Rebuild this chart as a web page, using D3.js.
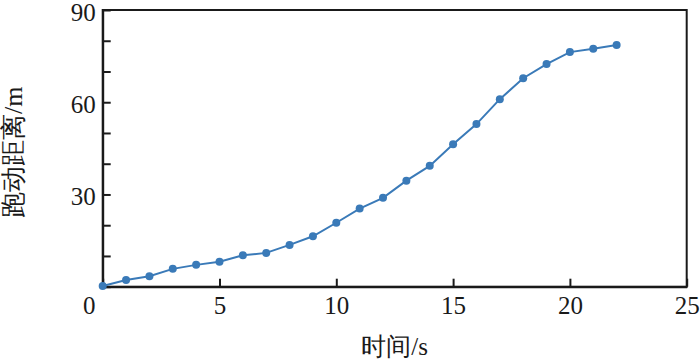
<!DOCTYPE html>
<html>
<head>
<meta charset="utf-8">
<script src="https://cdn.jsdelivr.net/npm/d3@7"></script>
</head>
<body style="margin:0">
<div id="chart"></div>
<script>
const times = [0, 1, 2, 3, 4, 5, 6, 7, 8, 9, 10, 11, 12, 13, 14, 15, 16, 17, 18, 19, 20, 21, 22];
const distances = [0.2, 2.2, 3.4, 5.8, 7.1, 8.1, 10.2, 11.0, 13.6, 16.4, 20.8, 25.4, 28.9, 34.5, 39.3, 46.3, 52.9, 61.0, 67.8, 72.4, 76.3, 77.4, 78.6];
const xTicks = [0, 5, 10, 15, 20, 25];
const yTicks = [0, 10, 20, 30, 40, 50, 60, 70, 80, 90];
const yLabelTicks = [30, 60, 90];
const xTitle = "时间/s";
const yTitle = "跑动距离/m";

const width = 700;
const height = 360;
const margin = { top: 10, right: 13.3, bottom: 73.3, left: 102.7 };
const lineColor = "#3a7ab8";
const ink = "#1a1a1a";
const serif = "Liberation Serif";

const svg = d3.select("#chart").append("svg")
    .attr("width", width)
    .attr("height", height);

const x = d3.scaleLinear()
    .domain([0, 25])
    .range([margin.left, width - margin.right]);

const y = d3.scaleLinear()
    .domain([0, 90])
    .range([height - margin.bottom, margin.top]);

// frame: top and right
svg.append("rect")
    .attr("x", x(0))
    .attr("y", y(90))
    .attr("width", x(25) - x(0))
    .attr("height", y(0) - y(90))
    .attr("fill", "none")
    .attr("stroke", ink)
    .attr("stroke-width", 2);

const xAxis = svg.append("g")
    .attr("transform", `translate(0,${y(0)})`)
    .call(d3.axisBottom(x)
        .tickValues(xTicks)
        .tickSizeInner(-8)
        .tickSizeOuter(0)
        .tickPadding(10)
        .tickFormat(d3.format("d")));

const yAxis = svg.append("g")
    .attr("transform", `translate(${x(0)},0)`)
    .call(d3.axisLeft(y)
        .tickValues(yTicks)
        .tickSizeInner(-8)
        .tickSizeOuter(0)
        .tickPadding(7)
        .tickFormat(d => yLabelTicks.includes(d) ? d : ""));

[xAxis, yAxis].forEach(g => {
    g.select(".domain").attr("stroke", ink).attr("stroke-width", 2);
    g.selectAll(".tick line").attr("stroke", ink).attr("stroke-width", 2);
    g.selectAll(".tick text")
        .attr("fill", ink)
        .attr("font-family", serif)
        .attr("font-size", 25);
});

// y labels sit a touch below their ticks
yAxis.selectAll(".tick text").attr("dy", "0.42em");

// the origin label sits left of the corner
xAxis.selectAll(".tick text").filter(d => d === 0).attr("dx", -14);

const line = d3.line()
    .x((d, i) => x(times[i]))
    .y(d => y(d));

svg.append("path")
    .datum(distances)
    .attr("fill", "none")
    .attr("stroke", lineColor)
    .attr("stroke-width", 2)
    .attr("d", line);

svg.append("g")
    .selectAll("circle")
    .data(distances)
    .join("circle")
    .attr("cx", (d, i) => x(times[i]))
    .attr("cy", d => y(d))
    .attr("r", 4)
    .attr("fill", lineColor);

svg.append("text")
    .attr("x", (x(0) + x(25)) / 2)
    .attr("y", 355)
    .attr("text-anchor", "middle")
    .attr("fill", ink)
    .attr("font-family", serif)
    .attr("font-size", 25)
    .text(xTitle);

svg.append("text")
    .attr("transform", `translate(22,${(y(0) + y(90)) / 2 + 4}) rotate(-90)`)
    .attr("text-anchor", "middle")
    .attr("fill", ink)
    .attr("font-family", serif)
    .attr("font-size", 26)
    .text(yTitle);
</script>
</body>
</html>
